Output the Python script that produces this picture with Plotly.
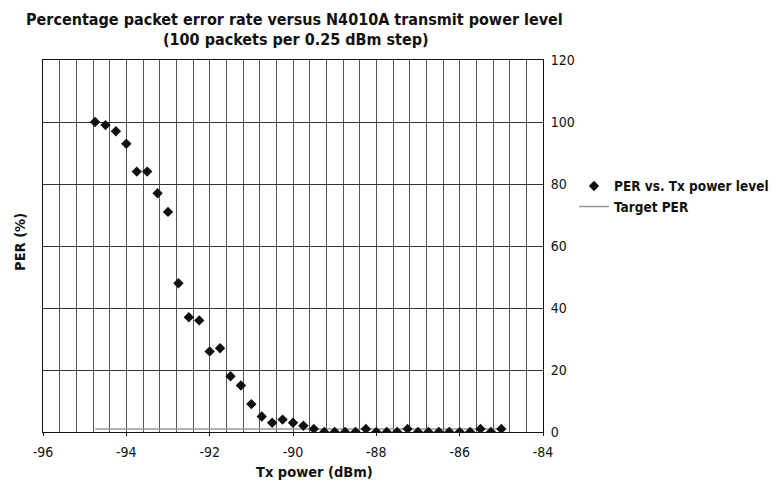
import plotly.graph_objects as go

tx_power = [-94.75, -94.5, -94.25, -94.0, -93.75, -93.5, -93.25, -93.0,
            -92.75, -92.5, -92.25, -92.0, -91.75, -91.5, -91.25, -91.0,
            -90.75, -90.5, -90.25, -90.0, -89.75, -89.5, -89.25, -89.0,
            -88.75, -88.5, -88.25, -88.0, -87.75, -87.5, -87.25, -87.0,
            -86.75, -86.5, -86.25, -86.0, -85.75, -85.5, -85.25, -85.0]
per = [100, 99, 97, 93, 84, 84, 77, 71,
       48, 37, 36, 26, 27, 18, 15, 9,
       5, 3, 4, 3, 2, 1, 0, 0,
       0, 0, 1, 0, 0, 0, 1, 0,
       0, 0, 0, 0, 0, 1, 0, 1]
target_x = [-94.75, -85.0]
target_per = [1, 1]
x_tick_vals = [-96, -94, -92, -90, -88, -86, -84]
x_tick_text = ["-96", "-94", "-92", "-90", "-88", "-86", "-84"]
y_tick_vals = [0, 20, 40, 60, 80, 100, 120]

FONT = "DejaVu Sans Condensed, Liberation Sans Narrow, Arial Narrow, sans-serif"

fig = go.Figure()
fig.add_trace(go.Scatter(x=target_x, y=target_per, mode="lines", name="Target PER",
                         line=dict(color="#999999", width=1.5)))
fig.add_trace(go.Scatter(x=tx_power, y=per, mode="markers", name="PER vs. Tx power level",
                         marker=dict(symbol="diamond", size=8, color="#111111")))

# page body has an 8px margin, so the figure is sized to fit the remaining window
fig.update_layout(
    width=773, height=477,
    margin=dict(l=35, r=238, t=52, b=53, autoexpand=False),
    paper_bgcolor="white", plot_bgcolor="white",
    font=dict(family=FONT, size=14, color="#111111"),
    legend=dict(x=1.062, y=0.7025, xanchor="left", yanchor="top", traceorder="reversed",
                font=dict(family=FONT, size=13.5, weight="bold"),
                bgcolor="rgba(0,0,0,0)", itemwidth=30),
    showlegend=True,
)
fig.update_xaxes(range=[-96, -84], tickvals=x_tick_vals, ticktext=x_tick_text,
                 showgrid=True, gridcolor="#555555", gridwidth=1,
                 minor=dict(dtick=0.4, tick0=-96, showgrid=True, gridcolor="#555555", gridwidth=1),
                 showline=True, linecolor="#111111", linewidth=1, mirror=True,
                 ticks="outside", ticklen=3, tickcolor="#111111", zeroline=False,
                 ticklabelstandoff=4)
fig.update_yaxes(range=[0, 120], tickvals=y_tick_vals, side="right",
                 showgrid=True, gridcolor="#333333", gridwidth=1,
                 showline=True, linecolor="#111111", linewidth=1, mirror=True, zeroline=False,
                 ticks="", ticklabelstandoff=4)

fig.add_annotation(text="<b>Percentage packet error rate versus N4010A transmit power level</b>",
                   xref="paper", yref="paper", x=0.502, y=1.110, xanchor="center", yanchor="middle",
                   showarrow=False, font=dict(family=FONT, size=16))
fig.add_annotation(text="<b>(100 packets per 0.25 dBm step)</b>",
                   xref="paper", yref="paper", x=0.506, y=1.054, xanchor="center", yanchor="middle",
                   showarrow=False, font=dict(family=FONT, size=16))
fig.add_annotation(text="<b>Tx power (dBm)</b>", xref="paper", yref="paper",
                   x=0.542, y=-0.1075, xanchor="center", yanchor="middle", showarrow=False,
                   font=dict(family=FONT, size=14.5))
fig.add_annotation(text="<b>PER (%)</b>", textangle=-90, xref="paper", yref="paper",
                   x=-0.046, y=0.511, xanchor="center", yanchor="middle", showarrow=False,
                   font=dict(family=FONT, size=14.5))

fig.write_html("out.html")
